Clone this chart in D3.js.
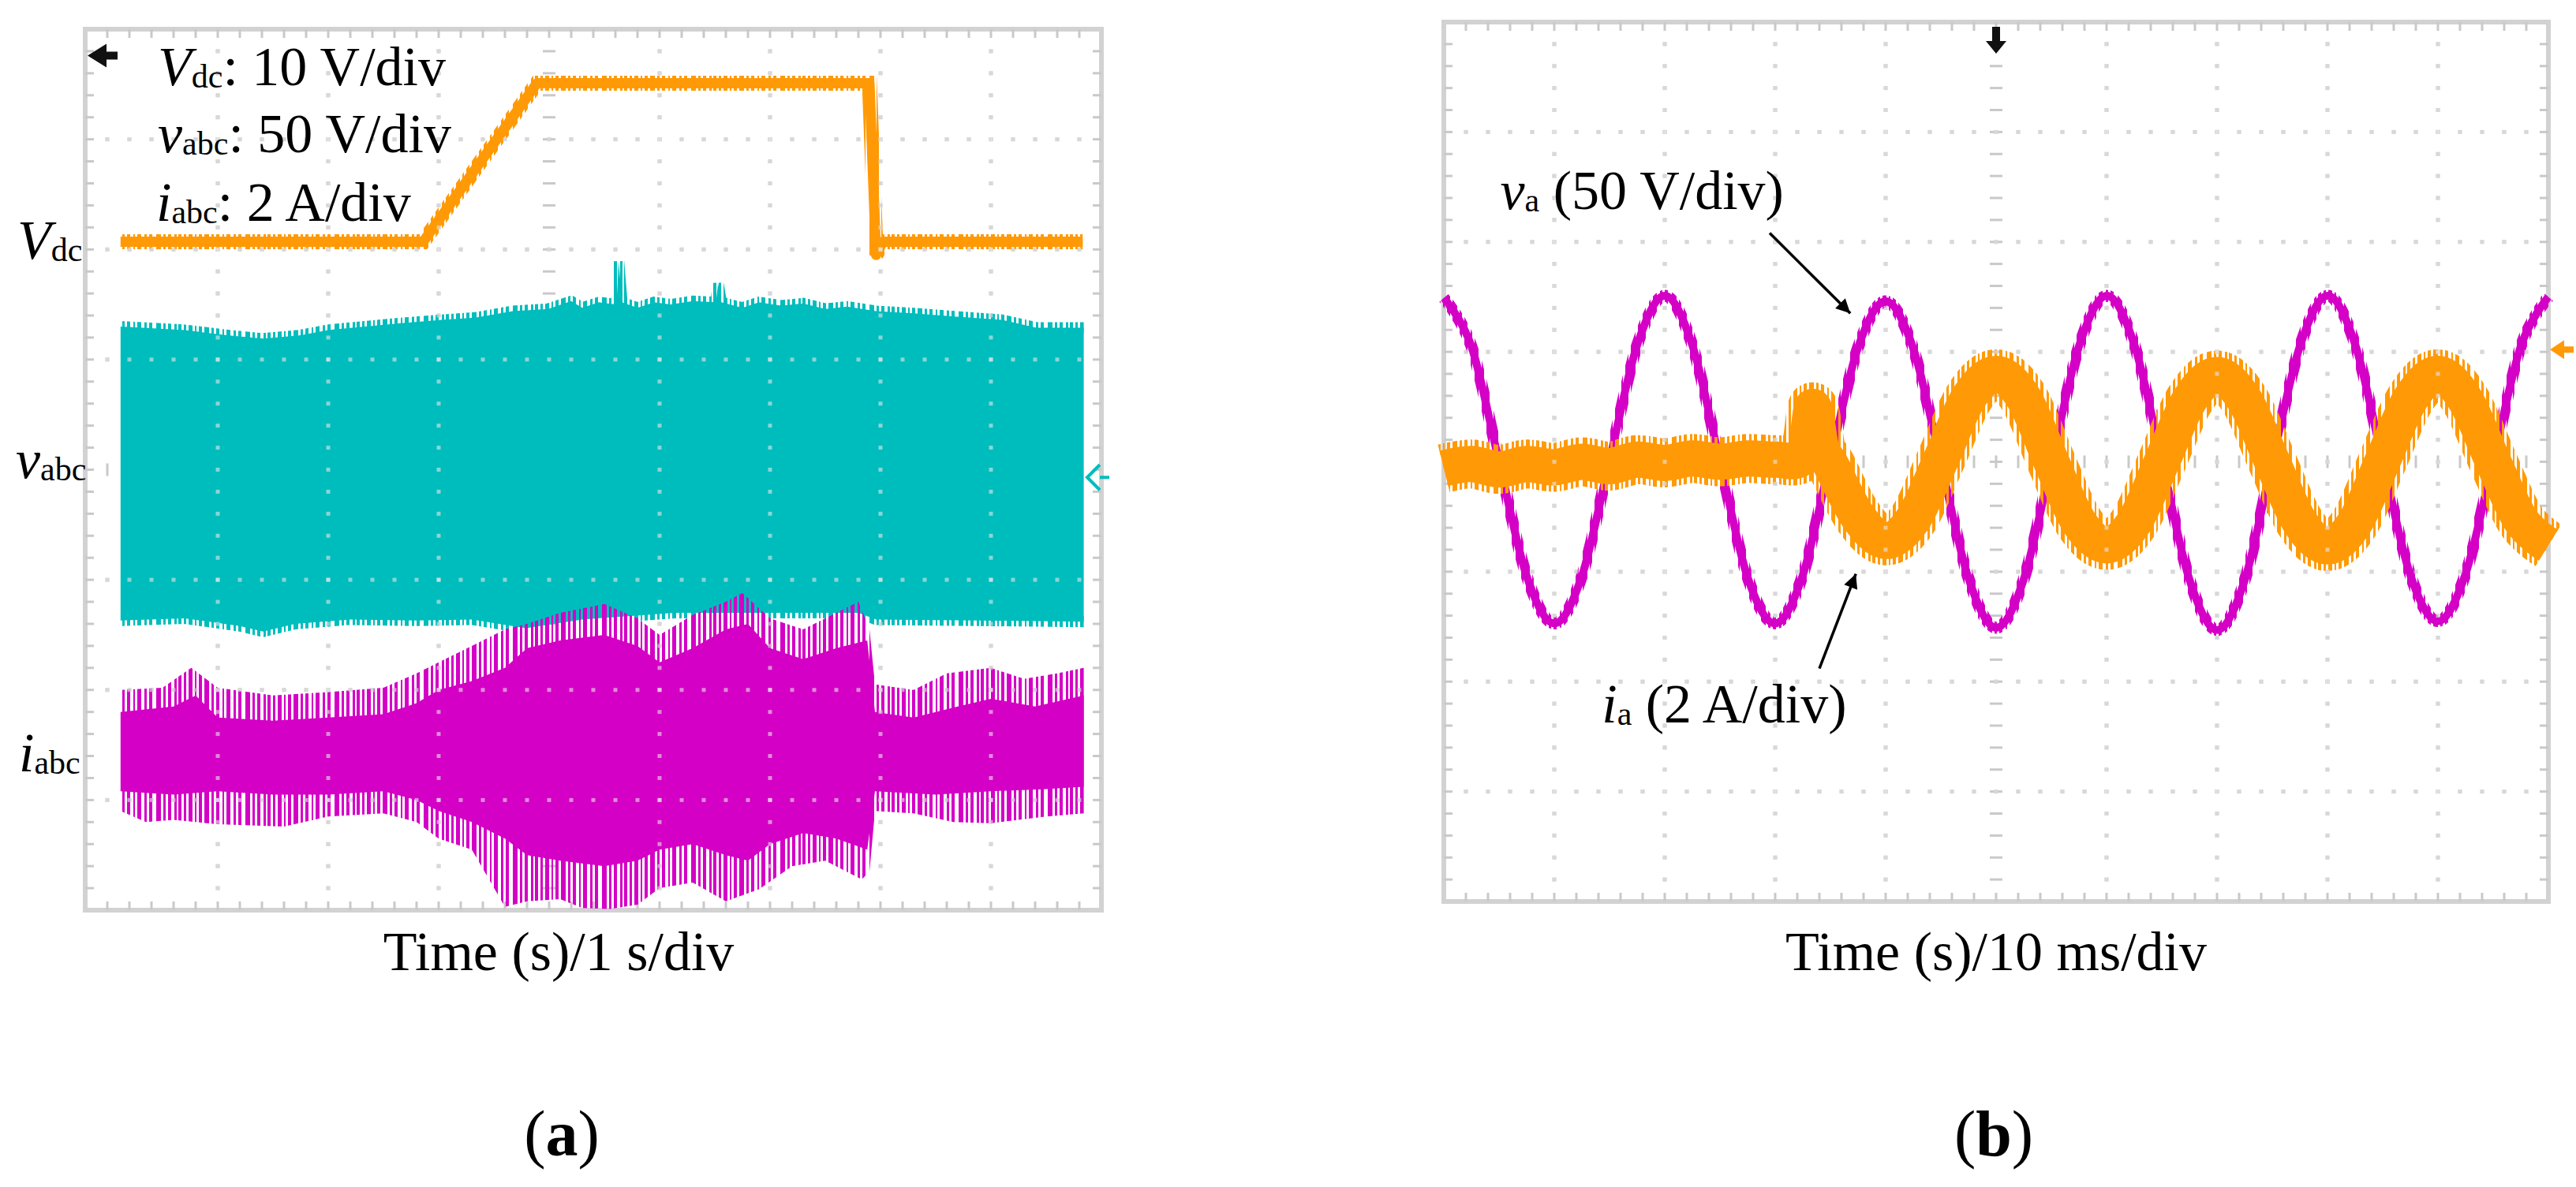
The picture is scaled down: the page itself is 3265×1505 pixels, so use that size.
<!DOCTYPE html>
<html>
<head>
<meta charset="utf-8">
<script src="https://cdn.jsdelivr.net/npm/d3@7"></script>
<style>
  body { margin: 0; background: #fff; }
  text { font-family: "Liberation Serif", "Times New Roman", serif; fill: #000; }
</style>
</head>
<body>
<div id="chart"></div>
<script>
/* two oscilloscope screens: (a) Vdc step with vabc / iabc, (b) va and ia zoomed in */

// ---- data, (a): time in s, trace position in div from screen centre ----
var vdc = [[0.12, 2.07], [2.86, 2.07], [3.89, 3.51], [6.90, 3.51], [6.96, 1.95],
           [7.02, 2.07], [8.83, 2.07]];

var vabc_top = [[0.12, 1.30], [0.68, 1.27], [1.10, 1.22], [1.41, 1.19], [1.74, 1.22], [2.01, 1.27],
                [2.66, 1.33], [3.03, 1.36], [3.33, 1.38], [3.67, 1.44], [3.99, 1.46], [4.20, 1.53],
                [4.30, 1.47], [4.45, 1.52], [4.61, 1.50], [4.63, 1.89], [4.66, 1.52], [4.80, 1.47],
                [4.95, 1.52], [5.10, 1.50], [5.30, 1.53], [5.51, 1.52], [5.53, 1.69], [5.56, 1.52],
                [5.75, 1.47], [5.90, 1.52], [6.10, 1.49], [6.30, 1.51], [6.50, 1.46], [6.70, 1.48],
                [6.96, 1.44], [7.30, 1.42], [7.69, 1.39], [8.10, 1.36], [8.41, 1.29], [8.84, 1.29]];
var vabc_bot = [[0.12, -1.37], [0.70, -1.35], [1.20, -1.42], [1.41, -1.47], [1.70, -1.40],
                [2.20, -1.36], [2.80, -1.37], [3.30, -1.36], [3.79, -1.44], [4.30, -1.36],
                [5.14, -1.30], [5.80, -1.30], [6.80, -1.30], [6.96, -1.36], [7.88, -1.37], [8.84, -1.38]];

// iabc: dense core and the tips of the outer spikes
var iabc_core_top = [[0.12, -2.20], [0.60, -2.15], [0.80, -2.05], [1.00, -2.25], [1.50, -2.28], [2.00, -2.25],
                     [2.50, -2.22], [2.80, -2.12], [3.00, -2.00], [3.30, -1.92], [3.60, -1.80], [3.80, -1.62],
                     [4.10, -1.55], [4.50, -1.50], [4.80, -1.60], [5.00, -1.75], [5.30, -1.62], [5.60, -1.45],
                     [5.80, -1.40], [6.00, -1.62], [6.30, -1.72], [6.60, -1.62], [6.88, -1.55], [6.95, -2.20],
                     [7.30, -2.25], [7.70, -2.15], [8.00, -2.08], [8.40, -2.15], [8.84, -2.05]];
var iabc_core_bot = [[0.12, -2.92], [0.60, -2.95], [1.00, -2.92], [1.50, -2.95], [2.00, -2.95], [2.50, -2.92],
                     [2.80, -3.00], [3.00, -3.10], [3.30, -3.20], [3.60, -3.35], [3.80, -3.50], [4.10, -3.55],
                     [4.50, -3.60], [4.80, -3.55], [5.00, -3.45], [5.30, -3.40], [5.60, -3.50], [5.80, -3.55],
                     [6.00, -3.40], [6.30, -3.30], [6.60, -3.35], [6.88, -3.45], [6.95, -2.92], [7.50, -2.95],
                     [8.00, -2.92], [8.50, -2.90], [8.84, -2.88]];
var iabc_tip_top = [[0.12, -2.00], [0.50, -1.98], [0.76, -1.80], [1.00, -1.98], [1.50, -2.05], [2.00, -2.02],
                    [2.50, -1.98], [2.80, -1.85], [3.00, -1.75], [3.30, -1.60], [3.60, -1.45], [3.80, -1.40],
                    [4.10, -1.30], [4.50, -1.22], [4.80, -1.35], [5.00, -1.50], [5.30, -1.32], [5.60, -1.20],
                    [5.75, -1.12], [6.00, -1.35], [6.30, -1.45], [6.60, -1.30], [6.80, -1.20], [6.90, -1.45],
                    [6.95, -1.95], [7.30, -2.00], [7.60, -1.85], [8.00, -1.80], [8.30, -1.90], [8.60, -1.85],
                    [8.84, -1.80]];
var iabc_tip_bot = [[0.12, -3.10], [0.35, -3.20], [0.60, -3.18], [1.00, -3.22], [1.60, -3.24], [2.00, -3.15],
                    [2.50, -3.12], [2.80, -3.20], [3.00, -3.35], [3.30, -3.45], [3.60, -3.97], [3.80, -3.92],
                    [4.10, -3.90], [4.30, -3.98], [4.55, -3.99], [4.80, -3.95], [5.00, -3.80], [5.30, -3.75],
                    [5.60, -3.92], [5.90, -3.81], [6.20, -3.60], [6.50, -3.55], [6.83, -3.72], [6.90, -3.65],
                    [6.95, -3.10], [7.30, -3.12], [7.66, -3.20], [8.00, -3.21], [8.50, -3.15], [8.84, -3.12]];

// ---- data, (b): time in ms, trace position in div ----
var va = [[0, 1.49], [2.5, 1.05], [5, 0.00], [7.5, -1.04], [10, -1.47], [12.5, -1.04], [15, 0.01],
          [17.5, 1.06], [20, 1.51], [22.5, 1.06], [25, 0.00], [27.5, -1.05], [30, -1.47], [32.5, -1.03],
          [35, 0.02], [37.5, 1.04], [40, 1.46], [42.5, 1.03], [45, -0.01], [47.5, -1.06], [50, -1.51],
          [52.5, -1.07], [55, -0.01], [57.5, 1.05], [60, 1.51], [62.5, 1.07], [65, 0.01], [67.5, -1.07],
          [70, -1.53], [72.5, -1.08], [75, 0.00], [77.5, 1.05], [80, 1.51], [82.5, 1.07], [85, 0.01],
          [87.5, -1.03], [90, -1.45], [92.5, -1.02], [95, 0.01], [97.5, 1.05], [100, 1.50]];
var ia = [[0, -0.06], [2.5, -0.02], [5, -0.07], [7.5, -0.02], [10, -0.05], [12.5, 0.00], [15, -0.04],
          [17.5, 0.02], [20, -0.01], [22.5, 0.03], [25, 0.00], [27.5, 0.03], [30, 0.02], [32.5, 0.05],
          [33.4, 0.50], [34.2, 0.10], [35, -0.02], [37.5, -0.50], [40, -0.72], [42.5, -0.52], [45, 0.02],
          [47.5, 0.58], [50, 0.80], [52.5, 0.58], [55, 0.00], [57.5, -0.55], [60, -0.76], [62.5, -0.55],
          [65, 0.00], [67.5, 0.56], [70, 0.79], [72.5, 0.56], [75, 0.00], [77.5, -0.55], [80, -0.77],
          [82.5, -0.55], [85, 0.01], [87.5, 0.57], [90, 0.80], [92.5, 0.56], [95, 0.00], [97.5, -0.53],
          [100, -0.76]];

var orange = "#ff9a06", cyan = "#00bdbd", magenta = "#d400c6";

var svg = d3.select("#chart").append("svg")
    .attr("width", 3265)
    .attr("height", 1505)
    .style("display", "block")
    .style("background", "#fff");

var defs = svg.append("defs");

// vertical-stripe fill, gives the trace edges a sampled / noisy look
var stripeSet = [[0, 4], [7, 3], [13, 5], [21, 2], [26, 4], [33, 6], [42, 3], [48, 4],
                 [56, 2], [61, 5], [70, 3], [76, 4], [85, 6], [94, 3], [100, 4], [108, 3]];
function stripes(id, color) {
    var p = defs.append("pattern")
        .attr("id", id)
        .attr("patternUnits", "userSpaceOnUse")
        .attr("width", 113).attr("height", 10);
    stripeSet.forEach(function(s) {
        p.append("rect").attr("x", s[0]).attr("width", s[1]).attr("height", 10).attr("fill", color);
    });
}
stripes("st-orange", orange);
stripes("st-cyan", cyan);
stripes("st-magenta", magenta);

// screens: 140 px per division
var xA = d3.scaleLinear().domain([-0.2, 9]).range([108, 1396]);
var yA = d3.scaleLinear().domain([-4, 4]).range([1154, 37]);
var xB = d3.scaleLinear().domain([0, 100]).range([1830, 3230]);
var yB = d3.scaleLinear().domain([-4, 4]).range([1143, 28]);

// graticule: frame, edge ticks, dotted grid, centre cross
function graticule(g, x, y, vLines, centreX, minorX) {
    var xr = x.range(), yr = y.range();
    var minorY = d3.range(-3.8, 3.9, 0.2);

    g.append("rect")
        .attr("x", xr[0]).attr("y", yr[1])
        .attr("width", xr[1] - xr[0]).attr("height", yr[0] - yr[1])
        .attr("fill", "none").attr("stroke", "#d2d2d2").attr("stroke-width", 6);

    var ticks = [];
    minorX.forEach(function(m) {
        ticks.push([x(m), yr[1], x(m), yr[1] + 11]);
        ticks.push([x(m), yr[0], x(m), yr[0] - 11]);
        ticks.push([x(m), y(0) - 8, x(m), y(0) + 8]);
    });
    minorY.forEach(function(m) {
        ticks.push([xr[0], y(m), xr[0] + 11, y(m)]);
        ticks.push([xr[1], y(m), xr[1] - 11, y(m)]);
        ticks.push([x(centreX) - 8, y(m), x(centreX) + 8, y(m)]);
    });
    g.append("g").selectAll("line")
        .data(ticks)
        .enter()
        .append("line")
        .attr("x1", function(d) { return d[0]; })
        .attr("y1", function(d) { return d[1]; })
        .attr("x2", function(d) { return d[2]; })
        .attr("y2", function(d) { return d[3]; })
        .attr("stroke", "#c9c9c9")
        .attr("stroke-width", 3);

    var dots = [];
    vLines.forEach(function(v) {
        if (v === centreX) return;
        minorY.forEach(function(m) { dots.push([x(v), y(m)]); });
    });
    [-3, -2, -1, 1, 2, 3].forEach(function(r) {
        minorX.forEach(function(m) { dots.push([x(m), y(r)]); });
    });
    g.append("g").attr("class", "dots").selectAll("rect")
        .data(dots)
        .enter()
        .append("rect")
        .attr("x", function(d) { return d[0] - 2.5; })
        .attr("y", function(d) { return d[1] - 2.5; })
        .attr("width", 5).attr("height", 5)
        .attr("fill", "#c4c4c4");
}

var gA = svg.append("g");
var gB = svg.append("g");
graticule(gA, xA, yA, d3.range(1, 9), 4, d3.range(0, 8.9, 0.2));
graticule(gB, xB, yB, d3.range(10, 100, 10), 50, d3.range(2, 99, 2));

// ---- panel (a) traces ----
var lineA = d3.line()
    .x(function(d) { return xA(d[0]); })
    .y(function(d) { return yA(d[1]); });

function band(top, bot) {
    return lineA(top.concat(bot.slice().reverse())) + "Z";
}

gA.append("path")
    .attr("d", band(vabc_top, vabc_bot))
    .attr("fill", cyan);
[vabc_top, vabc_bot].forEach(function(edge) {
    gA.append("path")
        .attr("d", lineA(edge))
        .attr("fill", "none")
        .attr("stroke", "url(#st-cyan)")
        .attr("stroke-width", 14);
});

gA.append("path")
    .attr("d", band(iabc_tip_top, iabc_tip_bot))
    .attr("fill", "url(#st-magenta)");
gA.append("path")
    .attr("d", band(iabc_core_top, iabc_core_bot))
    .attr("fill", magenta);

gA.append("path")
    .attr("d", lineA(vdc))
    .attr("fill", "none")
    .attr("stroke", "url(#st-orange)")
    .attr("stroke-width", 19);
gA.append("path")
    .attr("d", lineA(vdc))
    .attr("fill", "none")
    .attr("stroke", orange)
    .attr("stroke-width", 13)
    .attr("stroke-linejoin", "round");

// ---- panel (b) traces ----
var lineB = d3.line()
    .x(function(d) { return xB(d[0]); })
    .y(function(d) { return yB(d[1]); })
    .curve(d3.curveCardinal);

gB.append("path")
    .attr("d", lineB(va))
    .attr("fill", "none")
    .attr("stroke", "url(#st-magenta)")
    .attr("stroke-width", 15);
gB.append("path")
    .attr("d", lineB(va))
    .attr("fill", "none")
    .attr("stroke", magenta)
    .attr("stroke-width", 10);

gB.append("path")
    .attr("d", lineB(ia))
    .attr("fill", "none")
    .attr("stroke", "url(#st-orange)")
    .attr("stroke-width", 62);
gB.append("path")
    .attr("d", lineB(ia))
    .attr("fill", "none")
    .attr("stroke", orange)
    .attr("stroke-width", 46)
    .attr("stroke-linejoin", "round");

// light grid dots show through the traces
[gA, gB].forEach(function(g) {
    var copy = g.select(".dots").node().cloneNode(true);
    g.node().appendChild(copy);
    d3.select(copy).selectAll("rect").attr("fill", "#e6e6e6").attr("opacity", 0.6);
});

// channel markers
gA.append("path")
    .attr("d", "M" + (xA(-0.2) + 3) + "," + (yA(3.76)) + "l24,-15v10h14v10h-14v10z")
    .attr("fill", "#111");
gA.append("path")
    .attr("d", "M" + (xA(9) - 2) + "," + (yA(-0.07) - 16) + "l-16,16l16,16")
    .attr("fill", "none").attr("stroke", cyan).attr("stroke-width", 4);
gA.append("line")
    .attr("x1", xA(9) - 2).attr("x2", xA(9) + 10)
    .attr("y1", yA(-0.07)).attr("y2", yA(-0.07))
    .attr("stroke", cyan).attr("stroke-width", 4);

gB.append("path")
    .attr("d", "M" + xB(50) + "," + (yB(4) + 40) + "l-13,-16h8v-18h10v18h8z")
    .attr("fill", "#111");
gB.append("path")
    .attr("d", "M" + (xB(100) + 2) + "," + yB(1.02) + "l18,-12v8h12v8h-12v8z")
    .attr("fill", orange);

// ---- texts ----
function label(parent, x, y, main, sub, rest, size, anchor) {
    var t = parent.append("text")
        .attr("x", x).attr("y", y)
        .attr("font-size", size)
        .attr("text-anchor", anchor || "start");
    t.append("tspan").attr("font-style", "italic").text(main);
    t.append("tspan").attr("font-size", size * 0.6).attr("dy", size * 0.04).text(sub);
    if (rest) t.append("tspan").attr("dy", -size * 0.04).text(rest);
    return t;
}

label(svg, 200, 108, "V", "dc", ": 10 V/div", 70);
label(svg, 200, 193, "v", "abc", ": 50 V/div", 70);
label(svg, 198, 280, "i", "abc", ": 2 A/div", 70);

label(svg, 22, 328, "V", "dc", null, 70);
label(svg, 20, 606, "v", "abc", null, 70);
label(svg, 24, 978, "i", "abc", null, 70);

label(svg, xB(5.1), yB(2.30), "v", "a", " (50 V/div)", 70);
label(svg, xB(14.3), yB(-2.37), "i", "a", " (2 A/div)", 70);

// annotation arrows in (b), [tail, head] in ms / div
var arrows = [[[29.5, 2.08], [36.8, 1.35]], [[34.0, -1.88], [37.3, -1.02]]];
defs.append("marker")
    .attr("id", "head")
    .attr("viewBox", "0 0 10 10")
    .attr("refX", 10).attr("refY", 5)
    .attr("markerUnits", "userSpaceOnUse")
    .attr("markerWidth", 26).attr("markerHeight", 18)
    .attr("orient", "auto")
    .append("path").attr("d", "M0,0L10,5L0,10z").attr("fill", "#000");

svg.append("g").selectAll("line")
    .data(arrows)
    .enter()
    .append("line")
    .attr("x1", function(d) { return xB(d[0][0]); })
    .attr("y1", function(d) { return yB(d[0][1]); })
    .attr("x2", function(d) { return xB(d[1][0]); })
    .attr("y2", function(d) { return yB(d[1][1]); })
    .attr("stroke", "#000")
    .attr("stroke-width", 3.5)
    .attr("marker-end", "url(#head)");

svg.append("text")
    .attr("x", 708).attr("y", 1230)
    .attr("text-anchor", "middle")
    .attr("font-size", 70)
    .text("Time (s)/1 s/div");
svg.append("text")
    .attr("x", 2530).attr("y", 1230)
    .attr("text-anchor", "middle")
    .attr("font-size", 70)
    .text("Time (s)/10 ms/div");

[["a", 712], ["b", 2527]].forEach(function(p) {
    var t = svg.append("text")
        .attr("x", p[1]).attr("y", 1465)
        .attr("text-anchor", "middle")
        .attr("font-size", 82);
    t.append("tspan").text("(");
    t.append("tspan").attr("font-weight", "bold").text(p[0]);
    t.append("tspan").text(")");
});
</script>
</body>
</html>
